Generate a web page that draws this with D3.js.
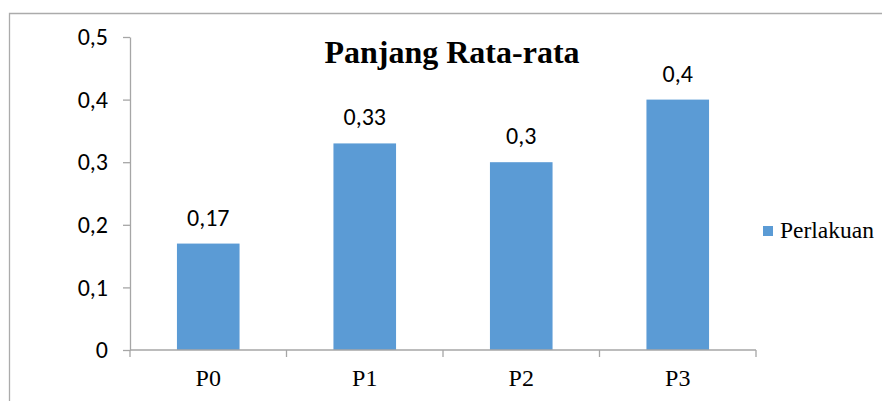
<!DOCTYPE html>
<html><head><meta charset="utf-8">
<script src="https://cdn.jsdelivr.net/npm/d3@7"></script>
<style>body{margin:0;background:#fff}svg{display:block}</style>
</head><body>
<svg id="c" width="882" height="401"></svg>
<script>
const categories = ["P0","P1","P2","P3"];
const values = [0.17,0.33,0.3,0.4];
const valueLabels = ["0,17","0,33","0,3","0,4"];
const yTicks = [0,0.1,0.2,0.3,0.4,0.5];
const yTickLabels = ["0","0,1","0,2","0,3","0,4","0,5"];
const seriesName = "Perlakuan";
const title = "Panjang Rata-rata";

const sans = "Carlito, 'Liberation Sans', sans-serif";
const serif = "'Liberation Serif', serif";

const svg = d3.select("#c");
// outer border
svg.append("path").attr("d","M9.5,420V13.5H900").attr("fill","none").attr("stroke","#ABABAB").attr("stroke-width",1.3);

const x = d3.scaleBand().domain(categories).range([130,756]).paddingInner(0.6).paddingOuter(0.3);
const xb = d3.scaleBand().domain(categories).range([130,756]);
const y = d3.scaleLinear().domain([0,0.5]).range([350,37]);

svg.selectAll("rect.bar").data(values).join("rect")
  .attr("x",(d,i)=>x(categories[i])).attr("width",x.bandwidth())
  .attr("y",d=>y(d)).attr("height",d=>y(0)-y(d)).attr("fill","#5B9BD5");

svg.selectAll("text.v").data(values).join("text")
  .attr("x",(d,i)=>x(categories[i])+x.bandwidth()/2).attr("y",d=>y(d)-18)
  .attr("text-anchor","middle").style("font-family",sans)
  .style("font-size","24px").attr("fill","#000").text((d,i)=>valueLabels[i]);

// y axis
const ya = svg.append("g").attr("transform","translate(130,0)")
  .call(d3.axisLeft(y).tickValues(yTicks).tickFormat((d,i)=>yTickLabels[i]).tickSize(7).tickSizeOuter(0).tickPadding(15));
ya.select(".domain").attr("stroke","#A6A6A6").attr("stroke-width",1.3);
ya.selectAll(".tick line").attr("stroke","#A6A6A6").attr("stroke-width",1.3);
ya.selectAll(".tick text").style("font-family",sans).style("font-size","24px").attr("fill","#000");

// x axis
const xa = svg.append("g").attr("transform","translate(0,350)");
xa.append("line").attr("x1",130).attr("x2",756).attr("stroke","#A6A6A6").attr("stroke-width",1.3);
const bounds = categories.map(c=>xb(c)).concat([xb(categories[categories.length-1])+xb.bandwidth()]);
xa.selectAll("line.t").data(bounds).join("line").attr("x1",d=>d).attr("x2",d=>d).attr("y1",0).attr("y2",7)
  .attr("stroke","#A6A6A6").attr("stroke-width",1.3);
xa.selectAll("text").data(categories).join("text")
  .attr("x",d=>xb(d)+xb.bandwidth()/2).attr("y",36).attr("text-anchor","middle")
  .style("font-family",serif).style("font-size","24px").text(d=>d);

// title
svg.append("text").attr("x",452).attr("y",63).attr("text-anchor","middle")
  .style("font-family",serif).style("font-weight","bold").style("font-size","32px").text(title);

// legend
svg.append("rect").attr("x",763).attr("y",226).attr("width",10).attr("height",10).attr("fill","#5B9BD5");
svg.append("text").attr("x",780).attr("y",238).style("font-family",serif).style("font-size","23.5px").text(seriesName);
</script>
</body></html>
